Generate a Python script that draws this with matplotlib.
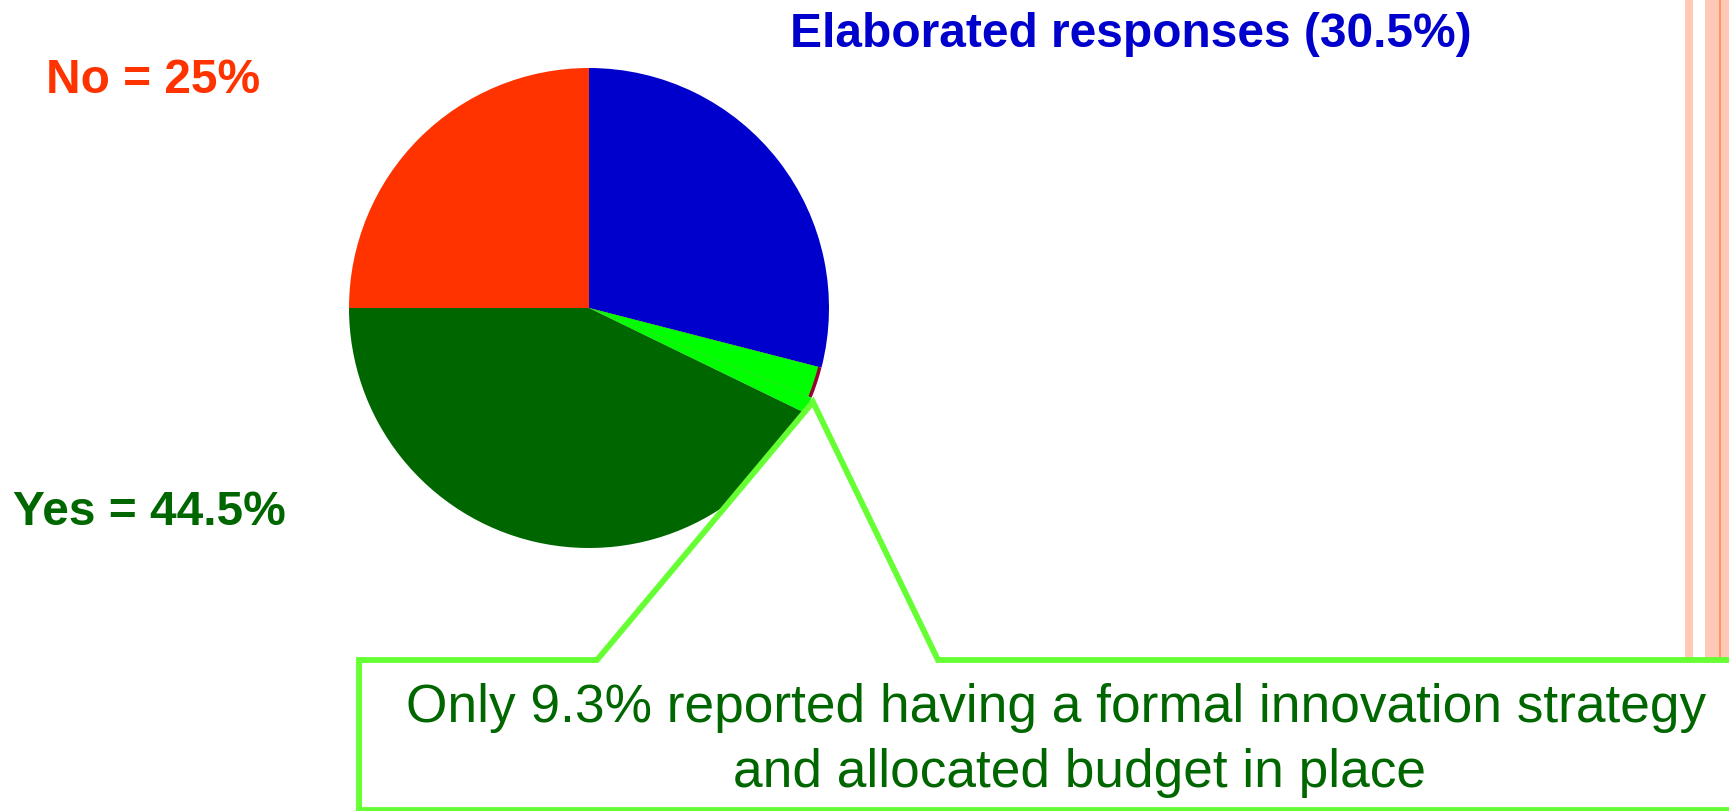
import matplotlib
matplotlib.use('Agg')
import matplotlib.pyplot as plt
from matplotlib.patches import Polygon

plt.rcParams['font.family'] = ['Liberation Sans', 'DejaVu Sans']

W, H = 1729, 812

# slice shares, clockwise from 12 o'clock
slice_names = ['Elaborated', 'Elaborated (edge)', 'Formal strategy', 'Yes', 'No']
slice_values = [29.0, 2.1, 1.1, 42.8, 25.0]
slice_colors = ['#0000CC', '#990033', '#00FF00', '#006600', '#FF3300']

label_texts = ['No = 25%', 'Yes = 44.5%', 'Elaborated responses (30.5%)']
label_colors = ['#FF3300', '#006600', '#0000CC']

callout_lines = ['Only 9.3% reported having a formal innovation strategy',
                 'and allocated budget in place']

def y_(v):
    # image rows -> data y
    return H - v

fig = plt.figure(figsize=(W / 100, H / 100), dpi=100)
ax = fig.add_axes([0, 0, 1, 1])

# main pie
ax.pie(slice_values, colors=slice_colors, startangle=90, counterclock=False,
       center=(589, y_(309)), radius=240, wedgeprops=dict(linewidth=0))
# lime wedge drawn over the maroon slice so only a thin rim stays visible
overlay = ['none', '#00FF00', 'none', 'none', 'none']
ax.pie(slice_values, colors=overlay, startangle=90, counterclock=False,
       center=(589, y_(309)), radius=236.5, wedgeprops=dict(linewidth=0))

# orange stripes at the right edge
ax.axvspan(1685, 1693, color='#FFC9B5', lw=0, zorder=1)
ax.axvspan(1705, 1729, color='#FFC9B5', lw=0, zorder=1)
ax.axvline(1720.5, color='#FF8C55', lw=1.2, zorder=1)

# callout box with a pointer to the lime wedge
pts = [(359, 811), (359, 661), (597, 661), (813, 403), (938, 661),
       (1745, 661), (1745, 811)]
box = Polygon([(x, y_(y)) for x, y in pts], closed=True, facecolor='white',
              edgecolor='#66FF33', lw=4.2, joinstyle='miter', zorder=5)
ax.add_patch(box)

ax.text(1056, y_(722), callout_lines[0], color='#006600', fontsize=38.3,
        ha='center', va='baseline', zorder=6)
ax.text(1080, y_(787), callout_lines[1], color='#006600', fontsize=38.3,
        ha='center', va='baseline', zorder=6)

# labels
ax.text(46, y_(93), label_texts[0], color=label_colors[0], fontsize=34.5,
        fontweight='bold', ha='left', va='baseline')
ax.text(13, y_(525), label_texts[1], color=label_colors[1], fontsize=34.5,
        fontweight='bold', ha='left', va='baseline')
ax.text(790, y_(47), label_texts[2], color=label_colors[2], fontsize=34.5,
        fontweight='bold', ha='left', va='baseline')

ax.set_xlim(0, W)
ax.set_ylim(0, H)
ax.set_aspect('auto')
ax.axis('off')

fig.savefig('out.png', dpi=100)
